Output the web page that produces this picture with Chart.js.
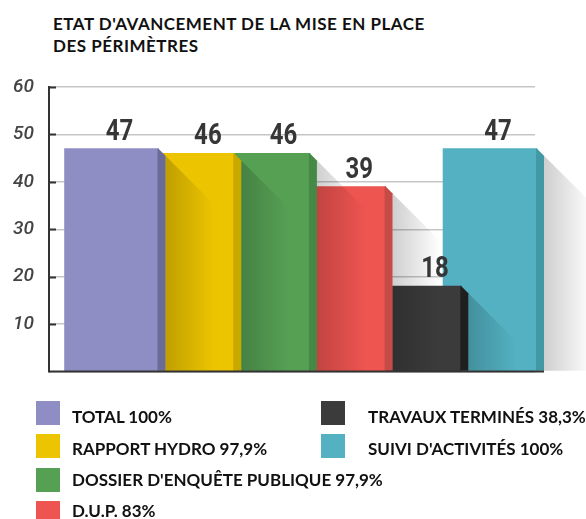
<!DOCTYPE html>
<html>
<head>
<meta charset="utf-8">
<script src="https://cdn.jsdelivr.net/npm/chart.js@4.4.0/dist/chart.umd.min.js"></script>
<style>
  html, body { margin: 0; padding: 0; background: #fff; }
  #wrap { position: relative; width: 586px; height: 519px; overflow: hidden; }
  #chart { position: absolute; left: 0; top: 0; }
  .title { position: absolute; left: 53px; top: 13px; font: 700 17px Lato, sans-serif; letter-spacing: 0.5px; line-height: 22px; color: #111; white-space: nowrap; }
  .leg-box { position: absolute; width: 24px; height: 24px; }
  .leg-text { position: absolute; font: 700 17px Lato, sans-serif; line-height: 20px; color: #111; white-space: nowrap; }
</style>
</head>
<body>
<div id="wrap">
  <div class="title">ETAT D'AVANCEMENT DE LA MISE EN PLACE<br>DES PÉRIMÈTRES</div>
  <canvas id="chart" width="586" height="519"></canvas>
  <div id="legend"></div>
</div>
<script>
// ================= DONNÉES =================
const categories = ['TOTAL', 'RAPPORT HYDRO', "DOSSIER D'ENQUÊTE PUBLIQUE", 'D.U.P.', 'TRAVAUX TERMINÉS', "SUIVI D'ACTIVITÉS"];
const values = [47, 46, 46, 39, 18, 47];
const percents = ['100%', '97,9%', '97,9%', '83%', '38,3%', '100%'];
const yTicks = [10, 20, 30, 40, 50, 60];

// couleurs : face avant / face latérale
const frontColors = ['#8e8ec4', '#ecc400', '#56a054', '#ee5450', '#3b3b3b', '#53b1c1'];
const sideColors = ['#6b6b99', '#c9a800', '#468846', '#c44b46', '#1f1f1f', '#4398a5'];

const SIDE = 7;     // épaisseur de la face latérale
const SHADOW = 48;  // longueur de l'ombre portée

// ================= LÉGENDE =================
const legend = document.getElementById('legend');
categories.forEach((cat, i) => {
    const col = i < 4 ? 0 : 1;
    const row = i < 4 ? i : i - 4;
    const box = document.createElement('div');
    box.className = 'leg-box';
    box.style.background = frontColors[i];
    box.style.left = (col ? 321 : 36) + 'px';
    box.style.top = (401 + row * 33.3) + 'px';
    const txt = document.createElement('div');
    txt.className = 'leg-text';
    txt.textContent = cat + ' ' + percents[i];
    txt.style.left = (col ? 368 : 72) + 'px';
    txt.style.top = (424 + row * 31.3 - 16.6) + 'px';
    legend.appendChild(box);
    legend.appendChild(txt);
});

// ================= PLUGIN 3D =================
function barProps(chart, i) {
    const bar = chart.getDatasetMeta(i).data[0];
    return bar ? bar.getProps(['x', 'y', 'base', 'width'], true) : null;
}

const bevelPlugin = {
    id: 'bevel',
    beforeDatasetDraw(chart, args) {
        // ombre portée vers la droite
        const p = barProps(chart, args.index);
        if (!p) return;
        const ctx = chart.ctx;
        const xr = p.x + p.width / 2 + SIDE;
        const top = p.y + SIDE;
        const g = ctx.createLinearGradient(xr, 0, xr + SHADOW, 0);
        g.addColorStop(0, 'rgba(0,0,0,0.19)');
        g.addColorStop(1, 'rgba(0,0,0,0)');
        ctx.save();
        ctx.beginPath();
        ctx.moveTo(xr, top);
        ctx.lineTo(xr + SHADOW, top + SHADOW);
        ctx.lineTo(xr + SHADOW, p.base);
        ctx.lineTo(xr, p.base);
        ctx.closePath();
        ctx.fillStyle = g;
        ctx.fill();
        ctx.restore();
    },
    afterDatasetDraw(chart, args) {
        // face latérale biseautée (chevauche d'1 px pour éviter la couture)
        const p = barProps(chart, args.index);
        if (!p) return;
        const ctx = chart.ctx;
        const x1 = p.x + p.width / 2;
        ctx.save();
        ctx.beginPath();
        ctx.moveTo(x1 - 1, p.y);
        ctx.lineTo(x1, p.y);
        ctx.lineTo(x1 + SIDE, p.y + SIDE);
        ctx.lineTo(x1 + SIDE, p.base);
        ctx.lineTo(x1 - 1, p.base);
        ctx.closePath();
        ctx.fillStyle = sideColors[args.index];
        ctx.fill();
        ctx.restore();
    },
    afterDatasetsDraw(chart) {
        const ctx = chart.ctx;
        const area = chart.chartArea;
        const yScale = chart.scales.y;
        ctx.save();
        // petits traits de graduation intérieurs
        ctx.strokeStyle = '#333';
        ctx.lineWidth = 2;
        yTicks.forEach(v => {
            const y = Math.round(yScale.getPixelForValue(v)) + 0.5;
            ctx.beginPath();
            ctx.moveTo(area.left, y);
            ctx.lineTo(area.left + 7, y);
            ctx.stroke();
        });
        // ligne de base
        const last = barProps(chart, values.length - 1);
        const y0 = yScale.getPixelForValue(0);
        ctx.beginPath();
        ctx.moveTo(area.left, y0);
        ctx.lineTo(last.x + last.width / 2 + SIDE, y0);
        ctx.stroke();
        // valeurs au-dessus des barres (police resserrée)
        ctx.fillStyle = '#363636';
        ctx.font = '700 30px Roboto';
        ctx.textAlign = 'center';
        ctx.textBaseline = 'alphabetic';
        values.forEach((v, i) => {
            const p = barProps(chart, i);
            let left = p.x - p.width / 2;
            if (i > 0) {
                const prev = barProps(chart, i - 1);
                if (prev.y <= p.y) left = Math.max(left, prev.x + prev.width / 2 + SIDE);
            }
            const cx = (left + p.x + p.width / 2) / 2 + 8;
            ctx.save();
            ctx.translate(cx, p.y - 9);
            ctx.scale(0.8, 1);
            ctx.fillText(String(v), 0, 0);
            ctx.restore();
        });
        ctx.restore();
    }
};

// ================= GRAPHIQUE =================
const datasets = values.map((v, i) => ({
    label: categories[i],
    data: [{ x: i, y: v }],
    backgroundColor: frontColors[i],
    borderWidth: 0,
    barThickness: 94,
    grouped: false,
    clip: false
}));

new Chart(document.getElementById('chart'), {
    type: 'bar',
    data: { datasets },
    options: {
        responsive: false,
        animation: false,
        devicePixelRatio: 1,
        layout: { padding: { top: 87, right: 51, bottom: 147.5, left: 0 } },
        plugins: {
            legend: { display: false },
            tooltip: { enabled: false }
        },
        scales: {
            x: {
                type: 'linear',
                min: -0.826,
                max: 5.594,
                offset: false,
                display: false
            },
            y: {
                min: 0,
                max: 60,
                afterFit: s => { s.width = 49; },
                border: { color: '#333', width: 2 },
                grid: { color: '#c6c6c6', lineWidth: 1.5, drawTicks: false },
                ticks: {
                    stepSize: 5,
                    padding: 15,
                    color: '#444',
                    font: { family: 'Roboto', style: 'italic', weight: '500', size: 19 },
                    callback: v => yTicks.includes(v) ? v : ''
                }
            }
        }
    },
    plugins: [bevelPlugin]
});
</script>
</body>
</html>
